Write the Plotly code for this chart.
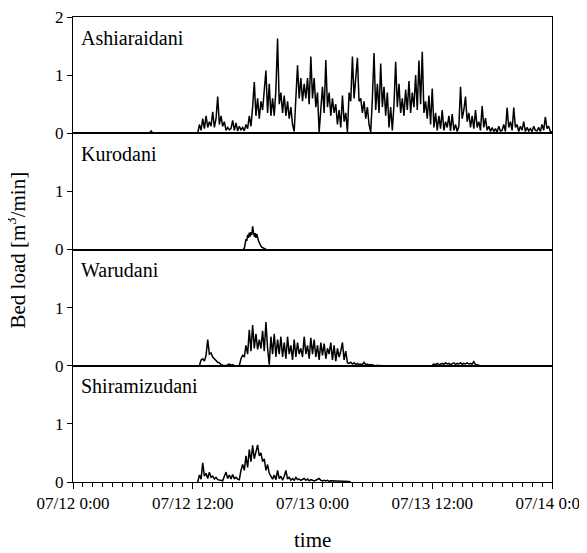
import pandas as pd
import plotly.graph_objects as go
from plotly.subplots import make_subplots

# ---------------- data (10-minute values, m3/min) ----------------
panel_names = ["Ashiaraidani", "Kurodani", "Warudani", "Shiramizudani"]

ashi_start = "2008-07-12 07:30"
ashi_values = [
    0, 0, 0.04, 0, 0,                       # 07:30-08:10
]
ashi_start2 = "2008-07-12 12:00"
ashi_values2 = [
    0, 0, 0, 0, 0.15, 0.05,                 # 12h
    0.25, 0.08, 0.3, 0.1, 0.2, 0.12,        # 13h
    0.37, 0.1, 0.25, 0.63, 0.15, 0.3,       # 14h
    0.12, 0.2, 0.05, 0.1, 0.06, 0.08,       # 15h
    0.22, 0.05, 0.18, 0.04, 0.12, 0.06,     # 16h
    0.1, 0.04, 0.15, 0.08, 0.3, 0.12,       # 17h
    0.45, 0.88, 0.3, 0.6, 0.25, 0.55,       # 18h
    0.4, 0.7, 1.08, 0.35, 0.85, 0.3,        # 19h
    0.6, 0.3, 0.75, 1.63, 0.5, 0.7,         # 20h
    0.35, 0.65, 0.3, 0.55, 0.25, 0.45,      # 21h
    0.15, 0.03, 0.5, 1.17, 0.6, 0.95,       # 22h
    0.55, 0.85, 0.6, 0.95, 0.5, 1.32,       # 23h
    0.6, 0.95, 0.45, 0.7, 0.02, 0.45,       # 00h (13th)
    0.8, 0.35, 1.26, 0.45, 0.7, 0.3,        # 01h
    0.6, 0.35, 0.5, 0.15, 0.4, 0.1,         # 02h
    0.65, 0.2, 0.35, 0.02, 0.7, 0.55,       # 03h
    1.32, 0.6, 0.95, 1.3, 0.55, 0.6,        # 04h
    0.35, 0.55, 0.25, 0.45, 0.15, 0.02,     # 05h
    0.6, 1.38, 0.4, 0.85, 0.35, 1.2,        # 06h
    0.45, 0.8, 0.3, 0.7, 0.1, 0.45,         # 07h
    0.05, 0.5, 1.23, 0.45, 0.85, 0.35,      # 08h
    0.6, 0.3, 0.75, 0.4, 0.9, 0.35,         # 09h
    0.7, 0.45, 1.0, 0.4, 1.25, 0.5,         # 10h
    1.4, 0.35, 0.55, 0.25, 0.65, 0.15,      # 11h
    0.77, 0.1, 0.35, 0.05, 0.3, 0.08,       # 12h
    0.4, 0.05, 0.2, 0.1, 0.3, 0.04,         # 13h
    0.33, 0.05, 0.15, 0.03, 0.12, 0.8,      # 14h
    0.25, 0.4, 0.63, 0.2, 0.35, 0.1,        # 15h
    0.3, 0.08, 0.4, 0.1, 0.2, 0.05,         # 16h
    0.47, 0.1, 0.26, 0.05, 0.12, 0.03,      # 17h
    0.1, 0.03, 0.08, 0.02, 0.12, 0.04,      # 18h
    0.05, 0.15, 0.03, 0.44, 0.1, 0.2,       # 19h
    0.05, 0.44, 0.1, 0.15, 0.03, 0.12,      # 20h
    0.05, 0.2, 0.03, 0.1, 0.04, 0.08,       # 21h
    0.03, 0.12, 0.05, 0.04, 0.1, 0.03,      # 22h
    0.15, 0.05, 0.28, 0.08, 0.12, 0.03,     # 23h
    0.02,
]

kuro_start = "2008-07-12 17:00"   # 5-minute values
kuro_values = [
    0, 0, 0.02, 0.1, 0.18, 0.15, 0.25, 0.2, 0.29, 0.22, 0.3, 0.25,
    0.4, 0.3, 0.22, 0.28, 0.2, 0.27, 0.18, 0.15, 0.12, 0.08, 0.06, 0.04,
    0.03, 0.02, 0.01, 0.01, 0, 0,
]

waru_start = "2008-07-12 12:40"
waru_values = [
    0, 0.1,                                 # 12h
    0.12, 0.08, 0.18, 0.45, 0.2, 0.22,      # 13h
    0.15, 0.12, 0.1, 0.06, 0.05, 0.02,      # 14h
    0.01, 0.0, 0.0, 0.02, 0.03, 0.01,       # 15h
    0.02, 0.0, 0.0, 0.0, 0.0, 0.12,         # 16h
    0.18, 0.15, 0.35, 0.2, 0.62, 0.25,      # 17h
    0.7, 0.3, 0.55, 0.28, 0.45, 0.3,        # 18h
    0.6, 0.25, 0.75, 0.3, 0.02, 0.5,        # 19h
    0.2, 0.55, 0.15, 0.45, 0.2, 0.5,        # 20h
    0.15, 0.4, 0.12, 0.5, 0.2, 0.35,        # 21h
    0.1, 0.45, 0.15, 0.4, 0.2, 0.3,         # 22h
    0.15, 0.5, 0.2, 0.35, 0.12, 0.48,       # 23h
    0.2, 0.45, 0.15, 0.35, 0.1, 0.4,        # 00h
    0.18, 0.38, 0.12, 0.3, 0.2, 0.4,        # 01h
    0.1, 0.35, 0.08, 0.3, 0.15, 0.25,       # 02h
    0.4, 0.1, 0.25, 0.05, 0.04, 0.06,       # 03h
    0.03, 0.05, 0.02, 0.04, 0.02, 0.03,     # 04h
    0.02, 0.06, 0.02, 0.03, 0.01, 0.02,     # 05h
    0.01, 0.01, 0.0, 0.01, 0.0, 0.01,       # 06h
]
waru_start2 = "2008-07-13 12:00"
waru_values2 = [
    0.01, 0.03, 0.02, 0.04, 0.02, 0.03,
    0.04, 0.02, 0.05, 0.03, 0.04, 0.02,
    0.03, 0.05, 0.02, 0.04, 0.03, 0.05,
    0.02, 0.04, 0.03, 0.05, 0.03, 0.04,
    0.03, 0.07, 0.02, 0.01, 0.0, 0.0,
]

shira_start = "2008-07-12 12:30"
shira_values = [
    0, 0.12, 0.05,                          # 12h
    0.33, 0.1, 0.15, 0.06, 0.17, 0.08,      # 13h
    0.1, 0.05, 0.08, 0.04, 0.03, 0.02,      # 14h
    0.02, 0.1, 0.17, 0.06, 0.12, 0.05,      # 15h
    0.13, 0.06, 0.08, 0.05, 0.04, 0.2,      # 16h
    0.3, 0.2, 0.45, 0.25, 0.56, 0.35,       # 17h
    0.63, 0.4, 0.55, 0.64, 0.45, 0.5,       # 18h
    0.35, 0.4, 0.2, 0.3, 0.15, 0.1,         # 19h
    0.05, 0.12, 0.04, 0.2, 0.06, 0.1,       # 20h
    0.03, 0.1, 0.2, 0.05, 0.08, 0.03,       # 21h
    0.06, 0.03, 0.08, 0.04, 0.05, 0.03,     # 22h
    0.04, 0.06, 0.03, 0.05, 0.02, 0.04,     # 23h
    0.03, 0.02, 0.03, 0.04, 0.06, 0.03,     # 00h
    0.02, 0.03, 0.02, 0.03, 0.01, 0.02,     # 01h
    0.02, 0.01, 0.02, 0.01, 0.02, 0.01,     # 02h
    0.01, 0.02, 0.01, 0.01, 0.01, 0.0,      # 03h
]

x_tickvals = ["2008-07-12 00:00", "2008-07-12 12:00", "2008-07-13 00:00",
              "2008-07-13 12:00", "2008-07-14 00:00"]
x_ticktext = ["07/12 0:00", "07/12 12:00", "07/13 0:00", "07/13 12:00", "07/14 0:00"]

# ---------------- figure ----------------
def times(start, vals, freq="10min"):
    return pd.date_range(start, periods=len(vals), freq=freq)

series = [
    [(ashi_start, ashi_values, "10min"), (ashi_start2, ashi_values2, "10min")],
    [(kuro_start, kuro_values, "5min")],
    [(waru_start, waru_values, "10min"), (waru_start2, waru_values2, "10min")],
    [(shira_start, shira_values, "10min")],
]

fig = make_subplots(rows=4, cols=1, shared_xaxes=True, vertical_spacing=0)

FONT = "Liberation Serif"
for i, segs in enumerate(series):
    for start, vals, freq in segs:
        fig.add_trace(go.Scatter(x=times(start, vals, freq), y=vals, mode="lines",
                                 line=dict(color="black", width=1.5),
                                 showlegend=False), row=i + 1, col=1)
    fig.add_annotation(text=panel_names[i], xref=f"x{i+1 if i else ''} domain",
                       yref=f"y{i+1 if i else ''} domain", x=0.012, y=0.935,
                       xanchor="left", yanchor="top", showarrow=False,
                       font=dict(family=FONT, size=20, color="black"))
    fig.update_yaxes(range=[0, 2], tickvals=[0, 1, 2] if i == 0 else [0, 1],
                     ticks="outside", ticklen=5, tickcolor="black",
                     showline=True, linecolor="black", linewidth=1, mirror=True,
                     showgrid=False, zeroline=False, automargin=False,
                     ticklabeloverflow="allow",
                     tickfont=dict(family=FONT, size=17, color="black"),
                     row=i + 1, col=1)
    fig.update_xaxes(range=["2008-07-12 00:00", "2008-07-14 00:00"],
                     showline=True, linecolor="black", linewidth=1, mirror=True,
                     showgrid=False, zeroline=False, automargin=False,
                     row=i + 1, col=1)

fig.update_xaxes(tickvals=x_tickvals, ticktext=x_ticktext, ticks="outside",
                 ticklen=6, tickcolor="black", ticklabeloverflow="allow",
                 minor=dict(dtick=3600000, ticks="outside", ticklen=4, tickcolor="black"),
                 tickfont=dict(family=FONT, size=17, color="black"),
                 row=4, col=1)

fig.add_annotation(text="time", xref="paper", yref="paper", x=0.5, y=-0.125,
                   showarrow=False, xanchor="center", yanchor="middle",
                   font=dict(family=FONT, size=21, color="black"))

fig.add_annotation(text="Bed load [m<sup>3</sup>/min]", xref="paper", yref="paper",
                   x=-0.117, y=0.5, textangle=-90, showarrow=False,
                   xanchor="center", yanchor="middle",
                   font=dict(family=FONT, size=21, color="black"))

# page body has an 8px margin, so the figure is sized/offset to compensate
fig.update_layout(width=579, height=545, margin=dict(l=65, r=35, t=9, b=71),
                  paper_bgcolor="white", plot_bgcolor="white")

fig.write_html("out.html")
